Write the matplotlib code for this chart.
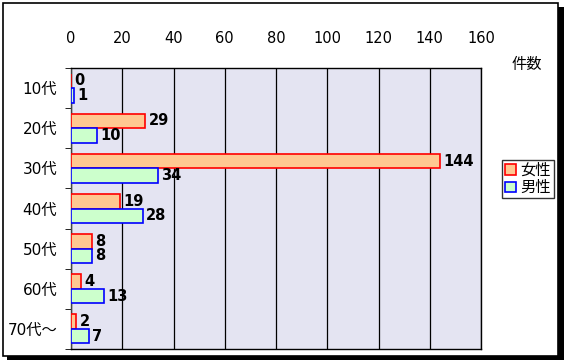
import matplotlib.pyplot as plt
import matplotlib.patches as mpatches
import numpy as np

plt.rcParams['font.family'] = ['DejaVu Sans', 'Noto Sans CJK JP']

ages = ['10代', '20代', '30代', '40代', '50代', '60代', '70代～']
female = [0, 29, 144, 19, 8, 4, 2]
male = [1, 10, 34, 28, 8, 13, 7]
xticks = [0, 20, 40, 60, 80, 100, 120, 140, 160]

fig = plt.figure(figsize=(5.68, 3.62), dpi=100)
fig.patch.set_facecolor('white')

# outer frame with shadow
fig.patches.append(mpatches.Rectangle((7 / 568, 2 / 362), 557 / 568, 353 / 362,
                                      transform=fig.transFigure, facecolor='black',
                                      edgecolor='none', zorder=0))
fig.patches.append(mpatches.Rectangle((3 / 568, 6 / 362), 555 / 568, 353 / 362,
                                      transform=fig.transFigure, facecolor='white',
                                      edgecolor='black', linewidth=1.2, zorder=1))

ax = fig.add_axes([71 / 568, 13 / 362, 410 / 568, 281 / 362])
ax.set_zorder(2)
ax.set_facecolor('#E4E4F2')

y = np.arange(len(ages))
h = 0.36
ax.barh(y - h / 2, female, height=h, color='#FFC891', edgecolor='#FF0000', linewidth=1.2,
        label='女性', zorder=3)
ax.barh(y + h / 2, male, height=h, color='#CCFFCC', edgecolor='#0000FF', linewidth=1.2,
        label='男性', zorder=3)

for i in range(len(ages)):
    ax.text(female[i] + 1.3, y[i] - h / 2, str(female[i]), va='center', ha='left',
            fontsize=10.5, fontweight='bold', zorder=4)
    ax.text(male[i] + 1.3, y[i] + h / 2, str(male[i]), va='center', ha='left',
            fontsize=10.5, fontweight='bold', zorder=4)

ax.set_xlim(0, 160)
ax.set_ylim(len(ages) - 0.5, -0.5)
ax.set_xticks(xticks)
ax.xaxis.tick_top()
ax.tick_params(axis='x', length=0, pad=16, labelsize=10.5)
ax.grid(axis='x', color='black', linewidth=0.9, zorder=1)
ax.set_axisbelow(True)

ax.set_yticks(y)
ax.set_yticklabels(ages, fontsize=11)
ax.tick_params(axis='y', length=0, pad=10)
ax.set_yticks(np.arange(len(ages) + 1) - 0.5, minor=True)
ax.tick_params(axis='y', which='minor', length=4, direction='out')

for s in ['top', 'right', 'bottom', 'left']:
    ax.spines[s].set_color('black')
    ax.spines[s].set_linewidth(1.0)
ax.spines['left'].set_color('#444444')

fig.text(527 / 568, 1 - 64 / 362, '件数', ha='center', va='center', fontsize=11)

leg = ax.legend(loc='upper left', bbox_to_anchor=(502 / 568, 1 - 160 / 362),
                bbox_transform=fig.transFigure, frameon=True, fancybox=False,
                fontsize=11, handlelength=0.7, handleheight=0.7, handletextpad=0.3,
                borderpad=0.2, labelspacing=0.15, borderaxespad=0)
leg.get_frame().set_edgecolor('black')
leg.get_frame().set_linewidth(1.0)

fig.savefig('out.png', dpi=100)
